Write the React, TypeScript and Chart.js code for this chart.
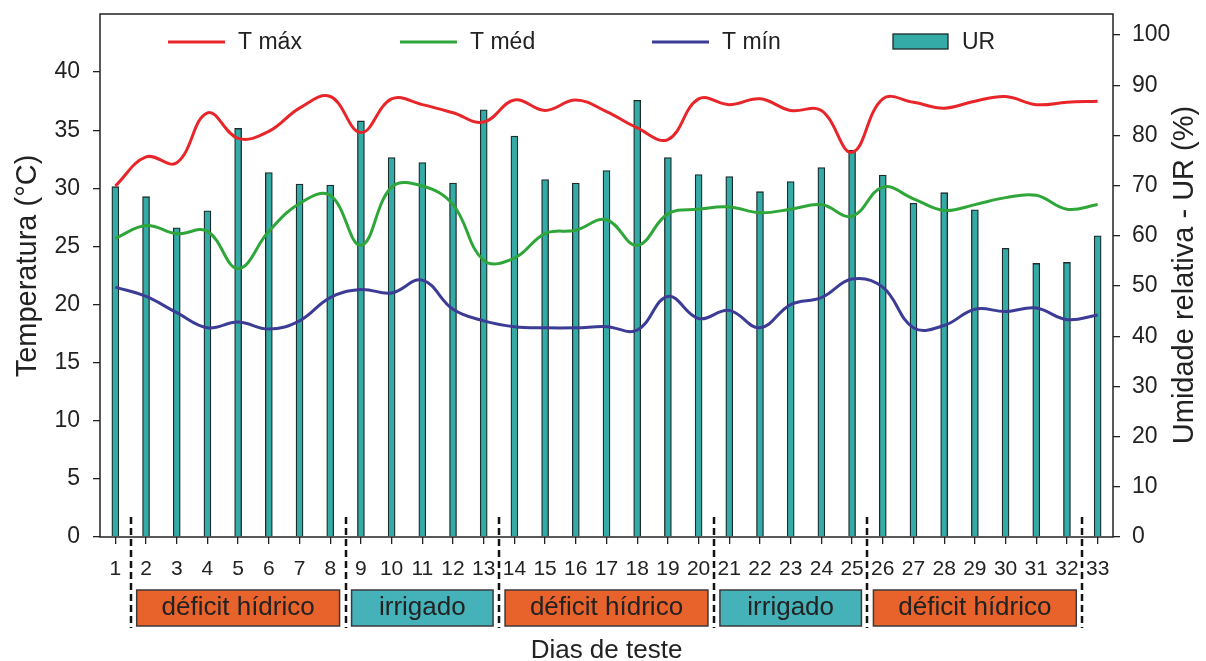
import { useEffect, useRef } from "react";
import { Chart, registerables } from "chart.js";

Chart.register(...registerables);

// Test days
const days = [
  "1", "2", "3", "4", "5", "6", "7", "8", "9", "10", "11", "12", "13", "14", "15", "16", "17",
  "18", "19", "20", "21", "22", "23", "24", "25", "26", "27", "28", "29", "30", "31", "32", "33",
];

// Air temperature (°C)
const tMax = [
  30.2, 32.7, 32.2, 36.5, 34.3, 34.9, 36.9, 37.9, 34.8, 37.7, 37.2, 36.5, 35.7, 37.6, 36.7, 37.6, 36.6,
  35.2, 34.2, 37.7, 37.2, 37.7, 36.7, 36.7, 33.1, 37.7, 37.4, 36.9, 37.5, 37.9, 37.2, 37.4, 37.5,
];
const tMed = [
  25.7, 26.8, 26.1, 26.3, 23.1, 26.3, 28.7, 29.4, 25.1, 30.1, 30.2, 28.6, 23.8, 24.0, 26.1, 26.4, 27.3,
  25.1, 27.8, 28.2, 28.4, 27.9, 28.2, 28.6, 27.6, 30.1, 29.1, 28.1, 28.6, 29.2, 29.4, 28.2, 28.6,
];
const tMin = [
  21.5, 20.7, 19.3, 18.0, 18.5, 17.9, 18.6, 20.6, 21.3, 21.0, 22.1, 19.6, 18.6, 18.1, 18.0, 18.0, 18.1,
  17.8, 20.7, 18.8, 19.5, 18.0, 20.0, 20.6, 22.2, 21.5, 18.0, 18.2, 19.6, 19.4, 19.7, 18.7, 19.1,
];

// Relative humidity (%)
const ur = [
  69.8, 67.8, 61.6, 65.0, 81.4, 72.6, 70.3, 70.1, 82.9, 75.6, 74.6, 70.5, 85.1, 79.9, 71.2, 70.5, 73.0,
  87.0, 75.6, 72.2, 71.8, 68.8, 70.8, 73.6, 77.1, 72.1, 66.5, 68.6, 65.2, 57.5, 54.5, 54.7, 60.0,
];

// Left and right axis tick values
const tempTicks = [0, 5, 10, 15, 20, 25, 30, 35, 40];
const urTicks = [0, 10, 20, 30, 40, 50, 60, 70, 80, 90, 100];

// Treatment periods shown under the day axis
const periodLabels = ["déficit hídrico", "irrigado", "déficit hídrico", "irrigado", "déficit hídrico"];
const periodFirstDay = [2, 9, 14, 21, 26];
const periodLastDay = [8, 13, 20, 25, 32];

const FONT = "'Liberation Sans', Arial, Helvetica, sans-serif";
const INK = "#222222";
const RED = "#e8262a";
const GREEN = "#2ea63a";
const BLUE = "#3c3c96";
const TEAL = "#35aba8";
const BAR_EDGE = "#1c2b2b";
const ORANGE = "#e8622c";
const BOX_TEAL = "#45b2ba";

const noScalePadding = (s: any) => {
  s.paddingTop = 0;
  s.paddingBottom = 0;
  s.paddingLeft = 0;
  s.paddingRight = 0;
};

const decorPlugin = {
  id: "decor",
  afterDraw(chart: any) {
    const { ctx, chartArea: a, scales } = chart;
    const xs = scales.x;
    ctx.save();

    // plot frame
    ctx.strokeStyle = INK;
    ctx.lineWidth = 1.5;
    ctx.strokeRect(a.left, a.top, a.right - a.left, a.bottom - a.top);

    // legend inside the top of the plot
    const ly = a.top + 28;
    ctx.font = `23px ${FONT}`;
    ctx.textAlign = "left";
    ctx.textBaseline = "middle";
    const lineItems = [
      { label: "T máx", color: RED, dx: 68 },
      { label: "T méd", color: GREEN, dx: 300 },
      { label: "T mín", color: BLUE, dx: 552 },
    ];
    for (const it of lineItems) {
      const x0 = a.left + it.dx;
      ctx.strokeStyle = it.color;
      ctx.lineWidth = 3;
      ctx.beginPath();
      ctx.moveTo(x0, ly);
      ctx.lineTo(x0 + 57, ly);
      ctx.stroke();
      ctx.fillStyle = INK;
      ctx.fillText(it.label, x0 + 70, ly + 1);
    }
    const bx = a.left + 793;
    ctx.fillStyle = TEAL;
    ctx.fillRect(bx, ly - 8, 55, 15);
    ctx.strokeStyle = BAR_EDGE;
    ctx.lineWidth = 1.3;
    ctx.strokeRect(bx, ly - 8, 55, 15);
    ctx.fillStyle = INK;
    ctx.fillText("UR", bx + 69, ly + 1);

    // treatment periods
    const px = (day: number) => xs.getPixelForValue(day - 1);
    const boundary = (day: number) => (px(day) + px(day + 1)) / 2;
    const boxTop = a.bottom + 53;
    const boxH = 36;
    ctx.font = `26px ${FONT}`;
    ctx.textAlign = "center";
    for (let i = 0; i < periodLabels.length; i++) {
      const left = boundary(periodFirstDay[i] - 1) + 6;
      const right = boundary(periodLastDay[i]) - 6;
      ctx.fillStyle = periodLabels[i] === "irrigado" ? BOX_TEAL : ORANGE;
      ctx.fillRect(left, boxTop, right - left, boxH);
      ctx.strokeStyle = "#3a3a3a";
      ctx.lineWidth = 1.5;
      ctx.strokeRect(left, boxTop, right - left, boxH);
      ctx.fillStyle = INK;
      ctx.fillText(periodLabels[i], (left + right) / 2, boxTop + boxH / 2);
    }
    const cuts = [periodFirstDay[0] - 1, ...periodLastDay];
    ctx.strokeStyle = "#111";
    ctx.lineWidth = 2.5;
    ctx.setLineDash([7, 4]);
    for (const d of cuts) {
      const xb = Math.round(boundary(d));
      ctx.beginPath();
      ctx.moveTo(xb, a.bottom - 20);
      ctx.lineTo(xb, a.bottom + 91);
      ctx.stroke();
    }
    ctx.setLineDash([]);

    // axis titles
    ctx.fillStyle = INK;
    ctx.textBaseline = "middle";
    ctx.textAlign = "center";
    ctx.font = `29px ${FONT}`;
    ctx.save();
    ctx.translate(28, 266);
    ctx.rotate(-Math.PI / 2);
    ctx.fillText("Temperatura (°C)", 0, 0);
    ctx.restore();
    ctx.save();
    ctx.translate(1185, 275);
    ctx.rotate(-Math.PI / 2);
    ctx.fillText("Umidade relativa - UR (%)", 0, 0);
    ctx.restore();
    ctx.font = `26px ${FONT}`;
    ctx.fillText("Dias de teste", (a.left + a.right) / 2, 651);

    ctx.restore();
  },
};

export default function App() {
  const canvasRef = useRef<HTMLCanvasElement | null>(null);

  useEffect(() => {
    const canvas = canvasRef.current;
    if (!canvas) return;
    const lineDs = (label: string, data: number[], color: string, order: number) => ({
      type: "line" as const,
      label,
      data,
      yAxisID: "y",
      borderColor: color,
      backgroundColor: color,
      borderWidth: 3,
      pointRadius: 0,
      tension: 0.4,
      fill: false,
      order,
    });
    const chart = new Chart(canvas, {
      type: "bar",
      data: {
        labels: days,
        datasets: [
          lineDs("T máx", tMax, RED, 1),
          lineDs("T méd", tMed, GREEN, 2),
          lineDs("T mín", tMin, BLUE, 3),
          {
            type: "bar",
            label: "UR",
            data: ur,
            yAxisID: "y1",
            backgroundColor: TEAL,
            borderColor: BAR_EDGE,
            borderWidth: 1.3,
            barThickness: 7,
            order: 4,
          } as any,
        ],
      },
      options: {
        responsive: false,
        animation: false,
        layout: { padding: { top: 14, left: 0, right: 0, bottom: 0 } },
        plugins: { legend: { display: false }, tooltip: { enabled: false } },
        scales: {
          x: {
            type: "category",
            offset: true,
            grid: {
              offset: false,
              drawOnChartArea: false,
              drawTicks: true,
              tickLength: 7,
              color: INK,
              lineWidth: 1.3,
            },
            border: { display: false },
            ticks: {
              font: { family: FONT, size: 21 },
              color: INK,
              padding: 13,
              maxRotation: 0,
              autoSkip: false,
            },
            afterFit(s: any) {
              s.height = 124;
              noScalePadding(s);
            },
          },
          y: {
            position: "left",
            min: 0,
            max: 45,
            grid: { drawOnChartArea: false, tickLength: 7, color: INK, lineWidth: 1.3 },
            border: { display: false },
            ticks: { font: { family: FONT, size: 23 }, color: INK, padding: 13 },
            afterBuildTicks(s: any) {
              s.ticks = tempTicks.map((v) => ({ value: v }));
            },
            afterFit(s: any) {
              s.width = 100;
              noScalePadding(s);
            },
          },
          y1: {
            position: "right",
            min: 0,
            max: 104.2,
            grid: { drawOnChartArea: false, tickLength: 7, color: INK, lineWidth: 1.3 },
            border: { display: false },
            ticks: { font: { family: FONT, size: 23 }, color: INK, padding: 12 },
            afterBuildTicks(s: any) {
              s.ticks = urTicks.map((v) => ({ value: v }));
            },
            afterFit(s: any) {
              s.width = 93;
              noScalePadding(s);
            },
          },
        },
      },
      plugins: [decorPlugin],
    });
    return () => chart.destroy();
  }, []);

  return (
    <div style={{ position: "fixed", left: 0, top: 0, width: 1206, height: 661, background: "#fff" }}>
      <canvas ref={canvasRef} width={1206} height={661} style={{ display: "block" }} />
    </div>
  );
}
